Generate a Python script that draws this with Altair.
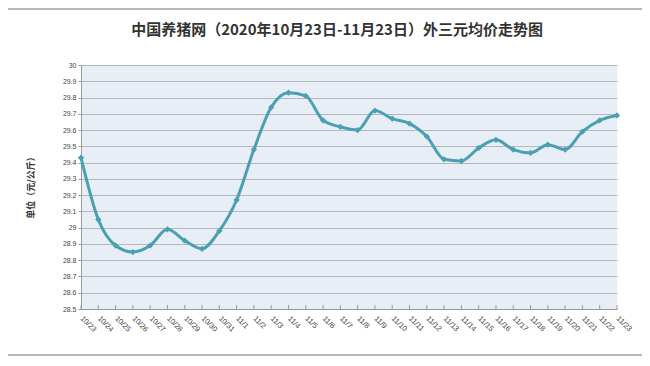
import altair as alt
import pandas as pd

dates = ["10/23", "10/24", "10/25", "10/26", "10/27", "10/28", "10/29", "10/30", "10/31",
         "11/1", "11/2", "11/3", "11/4", "11/5", "11/6", "11/7", "11/8", "11/9", "11/10",
         "11/11", "11/12", "11/13", "11/14", "11/15", "11/16", "11/17", "11/18", "11/19",
         "11/20", "11/21", "11/22", "11/23"]
prices = [29.43, 29.05, 28.89, 28.85, 28.89, 28.99, 28.92, 28.87, 28.98,
          29.17, 29.48, 29.74, 29.83, 29.81, 29.66, 29.62, 29.60, 29.72, 29.67,
          29.64, 29.56, 29.42, 29.41, 29.49, 29.54, 29.48, 29.46, 29.51,
          29.48, 29.59, 29.66, 29.69]
y_ticks = [28.5, 28.6, 28.7, 28.8, 28.9, 29.0, 29.1, 29.2, 29.3, 29.4,
           29.5, 29.6, 29.7, 29.8, 29.9, 30.0]

title_text = ["中国养猪网（2020年10月23日-11月23日）外三元均价走势图"]
y_title = "单位（元/公斤）"

df = pd.DataFrame({"date": dates, "price": prices})

W, H = 536, 244
LINE_COLOR = "#4aa0b2"
CJK = "Noto Sans CJK SC"
LAT = "Liberation Sans"

x_enc = alt.X("date:N", sort=dates, scale=alt.Scale(type="point", padding=0),
              axis=alt.Axis(title=None, labelAngle=45, labelAlign="left", labelBaseline="middle",
                            labelFontSize=7.5, labelFont=LAT, labelOverlap=False,
                            labelColor="#444", ticks=False, domainColor="#9a9a9a",
                            labelPadding=8, grid=False))
y_enc = alt.Y("price:Q", scale=alt.Scale(domain=[28.5, 30.0], nice=False, zero=False),
              axis=alt.Axis(title=y_title, values=y_ticks, format="~f", labelFontSize=7,
                            labelOverlap=False, labelFont=LAT, labelColor="#444",
                            tickSize=3, tickColor="#9a9a9a", grid=True,
                            domainColor="#9a9a9a", gridColor="#b4b8bc", gridWidth=1,
                            titleFont=CJK, titleFontSize=9, titleFontWeight="bold",
                            titleColor="#333", titleAngle=-90, titleX=-51, titleY=120,
                            titleAlign="center", titleBaseline="middle"))

base = alt.Chart(df)
inner_ticks = base.mark_rule(color="#9a9a9a", strokeWidth=1).encode(
    x=x_enc, y=alt.value(H - 4), y2=alt.value(H))
line = base.mark_line(color=LINE_COLOR, strokeWidth=3, interpolate="monotone").encode(x=x_enc, y=y_enc)
pts = base.mark_point(shape="diamond", filled=True, size=40, color=LINE_COLOR, opacity=1).encode(
    x=x_enc, y=y_enc)

one = alt.Chart(pd.DataFrame({"a": [0]}))
top_rule = one.mark_rule(color="#a0a0a0", strokeWidth=1.5).encode(
    x=alt.value(-73), x2=alt.value(561), y=alt.value(-56))
bottom_rule = one.mark_rule(color="#a0a0a0", strokeWidth=1.5).encode(
    x=alt.value(-73), x2=alt.value(561), y=alt.value(290))

title = alt.Chart(pd.DataFrame({"t": title_text})).mark_text(
    font=CJK, fontSize=15, fontWeight="bold", color="#333", align="center", baseline="middle"
).encode(text="t:N", x=alt.value(256), y=alt.value(-35))

chart = alt.layer(inner_ticks, line, pts, top_rule, bottom_rule, title).properties(
    width=W, height=H,
    autosize=alt.AutoSizeParams(type="none"),
    padding={"left": 73, "top": 57, "right": 25, "bottom": 49},
    background="white",
).configure_view(fill="#e8eef5", stroke="transparent", strokeWidth=0)

chart.save("out.html", embed_options={"renderer": "svg", "actions": False})
